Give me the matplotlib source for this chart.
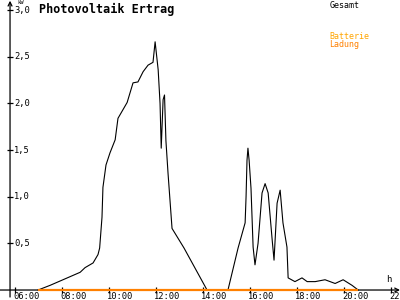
import matplotlib
matplotlib.use('Agg')
from matplotlib import pyplot as plt
from matplotlib.transforms import offset_copy

# Gesamt (kW) over time of day (hours)
gesamt_t = [6.98, 7.49, 8.04, 8.77, 8.98, 9.32, 9.53, 9.60, 9.70, 9.74, 9.87, 10.04,
            10.26, 10.38, 10.77, 11.02, 11.23, 11.45, 11.66, 11.87, 11.96, 12.09,
            12.17, 12.22, 12.30, 12.36, 12.42, 12.51, 12.68, 13.19, 14.17, 15.06,
            15.49, 15.79, 15.83, 15.87, 15.91, 15.96, 16.04, 16.13, 16.21, 16.34,
            16.51, 16.64, 16.77, 16.94, 17.02, 17.15, 17.28, 17.40, 17.57, 17.62,
            17.91, 18.21, 18.43, 18.77, 19.19, 19.62, 19.96, 20.34, 20.60]
gesamt_v = [0.00, 0.05, 0.11, 0.19, 0.24, 0.29, 0.38, 0.45, 0.78, 1.10, 1.34, 1.47,
            1.61, 1.84, 2.01, 2.22, 2.23, 2.34, 2.41, 2.44, 2.66, 2.36,
            2.00, 1.52, 2.04, 2.09, 1.60, 1.25, 0.66, 0.45, 0.00, 0.00,
            0.45, 0.72, 1.00, 1.39, 1.52, 1.39, 1.09, 0.46, 0.27, 0.50,
            1.04, 1.14, 1.04, 0.54, 0.32, 0.93, 1.07, 0.72, 0.46, 0.13,
            0.09, 0.13, 0.09, 0.09, 0.11, 0.07, 0.11, 0.05, 0.00]

# Batterie Ladung (kW)
batterie_t = [6.98, 20.60]
batterie_v = [0.0, 0.0]

x_ticks = [6, 8, 10, 12, 14, 16, 18, 20, 22]
x_labels = ['06:00', '08:00', '10:00', '12:00', '14:00', '16:00', '18:00', '20:00', '22:00']
y_ticks = [0.5, 1.0, 1.5, 2.0, 2.5, 3.0]
y_labels = ['0,5', '1,0', '1,5', '2,0', '2,5', '3,0']

mono = 'DejaVu Sans Mono'
x0 = 5.787  # position of the value axis

fig = plt.figure(figsize=(4, 3), dpi=100)
ax = fig.add_axes([0, 0, 1, 1])
ax.set_xlim(5.36, 22.38)
ax.set_ylim(-0.107, 3.108)
ax.axis('off')

ax.plot(gesamt_t, gesamt_v, color='black', lw=0.8, zorder=3)
ax.plot(batterie_t, batterie_v, color='#ff8000', lw=1.6, zorder=4, solid_capstyle='butt')

# axes with arrows
ax.annotate('', xy=(22.38, 0), xytext=(5.36, 0),
            arrowprops=dict(arrowstyle='->', lw=0.9, color='black', shrinkA=0, shrinkB=0,
                            mutation_scale=7), zorder=2)
ax.annotate('', xy=(x0, 3.1), xytext=(x0, -0.075),
            arrowprops=dict(arrowstyle='->', lw=0.9, color='black', shrinkA=0, shrinkB=0,
                            mutation_scale=7), zorder=2)

ax.plot(x_ticks, [0] * len(x_ticks), ls='none', marker='|', color='black', ms=5, mew=0.9)
ax.plot([x0] * len(y_ticks), y_ticks, ls='none', marker='_', color='black', ms=5, mew=0.9)

tx = offset_copy(ax.transData, fig=fig, x=-2, y=-2, units='dots')
for h, lab in zip(x_ticks, x_labels):
    ax.text(h, 0, lab, transform=tx, ha='left', va='top', fontsize=6.3, family=mono)

ty = offset_copy(ax.transData, fig=fig, x=4, y=0, units='dots')
for v, lab in zip(y_ticks, y_labels):
    ax.text(x0, v, lab, transform=ty, ha='left', va='center', fontsize=6.3, family=mono)

ax.text(17, 300, 'kW', transform=None, ha='left', va='top', fontsize=4, family=mono)
ax.text(386, 16, 'h', transform=None, ha='left', va='bottom', fontsize=6.5, family=mono)

fig.text(0.098, 0.99, 'Photovoltaik Ertrag', ha='left', va='top', fontsize=8.5,
         fontweight='bold', family=mono)

fig.text(0.823, 0.995, 'Gesamt', ha='left', va='top', fontsize=6, family=mono, color='black')
fig.text(0.823, 0.893, 'Batterie', ha='left', va='top', fontsize=6, family=mono, color='#ffa500')
fig.text(0.823, 0.866, 'Ladung', ha='left', va='top', fontsize=6, family=mono, color='#ff8000')

fig.savefig('out.png', dpi=100)
